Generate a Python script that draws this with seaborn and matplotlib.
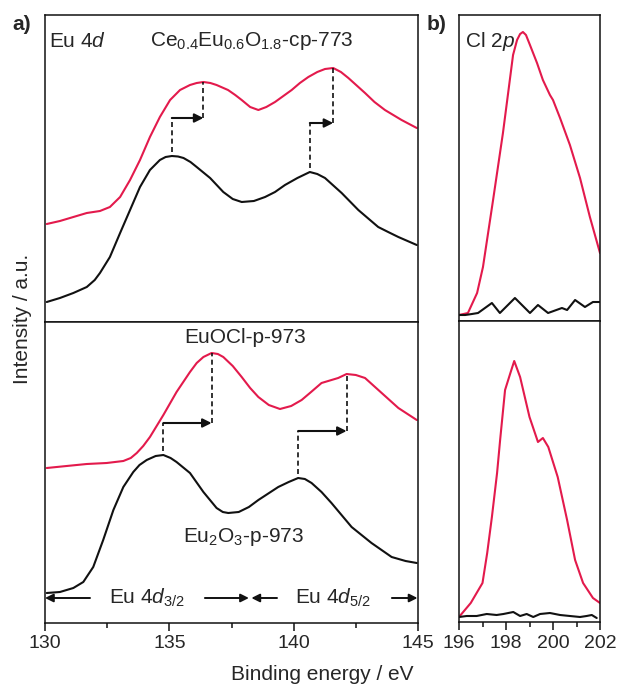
import numpy as np
import pandas as pd
import matplotlib
matplotlib.use("Agg")
import matplotlib.pyplot as plt
import seaborn as sns

# ---------------- Eu 4d spectra (binding energy in eV, intensity in a.u.) ----------------
ce_eu_energy = [130.07, 130.60, 131.14, 131.68, 132.21, 132.61, 133.02, 133.42, 133.82, 134.22,
                134.62, 135.03, 135.43, 135.83, 136.10, 136.37, 136.65, 136.90, 137.36, 137.65,
                137.91, 138.25, 138.58, 138.90, 139.25, 139.92, 140.25, 140.59, 140.95, 141.26,
                141.59, 141.90, 142.20, 142.87, 143.25, 143.67, 144.34, 144.95]
ce_eu_intensity = [98, 101, 105, 109, 111, 115, 125, 142, 162, 185,
                   205, 222, 232, 237, 239, 240, 239, 237, 232, 227,
                   222, 215, 212, 215, 220, 232, 239, 245, 250, 253,
                   254, 250, 244, 229, 220, 212, 202, 194]

ref_top_energy = [130.07, 130.60, 131.14, 131.68, 132.00, 132.21, 132.61, 133.02, 133.42, 133.82,
                  134.22, 134.62, 134.85, 135.10, 135.35, 135.57, 135.85, 136.10, 136.64, 137.17,
                  137.55, 137.91, 138.40, 138.85, 139.25, 139.65, 140.15, 140.65, 140.95, 141.26,
                  141.93, 142.60, 143.40, 143.80, 144.21, 144.95]
ref_top_intensity = [20, 24, 29, 35, 42, 49, 65, 89, 112, 135,
                     152, 162, 165, 166, 165.5, 164, 160, 155, 144, 130,
                     123, 120, 121, 125, 130, 137, 144, 150, 148, 144,
                     129, 112, 95, 90, 85, 77]

euocl_energy = [130.07, 130.87, 131.68, 132.48, 133.15, 133.45, 133.69, 133.95, 134.22, 134.76,
                135.29, 135.83, 136.10, 136.37, 136.70, 136.95, 137.17, 137.55, 137.91, 138.25,
                138.58, 139.00, 139.45, 139.90, 140.32, 140.70, 141.12, 141.79, 142.13, 142.50,
                142.87, 143.54, 144.21, 144.95]
euocl_intensity = [155, 157, 159, 160, 162, 165, 170, 177, 186, 208,
                   231, 251, 260, 266, 270, 269, 266, 257, 246, 235,
                   226, 218, 214, 217, 223, 231, 240, 245, 249, 248,
                   245, 230, 215, 203]

eu2o3_energy = [130.07, 130.60, 131.14, 131.54, 131.94, 132.34, 132.75, 133.15, 133.55, 133.80,
                134.09, 134.45, 134.76, 135.05, 135.29, 135.83, 136.37, 136.90, 137.15, 137.37,
                137.79, 138.20, 138.58, 139.38, 139.80, 140.18, 140.45, 140.72, 141.12, 141.52,
                142.33, 143.13, 143.94, 144.50, 144.95]
eu2o3_intensity = [30, 31, 35, 41, 56, 83, 113, 136, 151, 158,
                   163, 167, 168, 165, 161, 150, 131, 115, 111, 110,
                   111, 116, 123, 136, 141, 145, 144, 140, 131, 120,
                   96, 80, 66, 62, 60]

# ---------------- Cl 2p spectra ----------------
cl_top_energy = [196.00, 196.38, 196.77, 197.02, 197.45, 197.87, 198.08, 198.30, 198.47, 198.60,
                 198.72, 198.85, 199.02, 199.32, 199.57, 199.87, 200.00, 200.30, 200.72, 201.15,
                 201.57, 202.00]
cl_top_intensity = [6, 8, 28, 54, 121, 188, 226, 266, 281, 287,
                    289, 286, 276, 258, 241, 226, 221, 203, 176, 143,
                    104, 68]

cl_top_ref_energy = [196.00, 196.26, 196.55, 196.81, 197.40, 197.74, 198.38, 199.02, 199.36, 199.79,
                     200.38, 200.60, 200.94, 201.36, 201.70, 202.00]
cl_top_ref_intensity = [6, 6, 7, 8, 18, 8, 23, 8, 16, 8,
                        13, 11, 21, 14, 19, 19]

cl_bot_energy = [196.00, 196.50, 197.00, 197.20, 197.40, 197.62, 197.75, 197.96, 198.20, 198.35,
                 198.60, 199.00, 199.36, 199.57, 199.80, 200.20, 200.60, 200.94, 201.28, 201.70, 202.00]
cl_bot_intensity = [5, 19, 39, 69, 105, 149, 182, 232, 250, 261,
                    245, 205, 180, 184, 175, 145, 102, 62, 39, 24, 19]

cl_bot_ref_energy = [196.00, 196.33, 196.75, 197.18, 197.60, 197.89, 198.31, 198.60, 198.88, 199.16,
                     199.45, 199.87, 200.30, 200.72, 201.15, 201.43, 201.65, 201.86]
cl_bot_ref_intensity = [5, 6, 6, 8, 7, 8, 10, 6, 8, 5,
                        8, 9, 7, 6, 5, 6, 7, 4]

eu_ticks = [130, 135, 140, 145]
cl_ticks = [196, 198, 200, 202]

# ---------------- style ----------------
sns.set_style("ticks")
plt.rcParams["font.family"] = ["Liberation Sans", "DejaVu Sans"]
plt.rcParams["mathtext.fontset"] = "custom"
plt.rcParams["mathtext.rm"] = "Liberation Sans"
plt.rcParams["mathtext.it"] = "Liberation Sans:italic"
plt.rcParams["axes.linewidth"] = 1.1
plt.rcParams["lines.solid_joinstyle"] = "round"

RED = "#e31a4c"
BLACK = "#111111"
LW = 1.5
FS = 15

W, H = 621, 688
fig = plt.figure(figsize=(W / 100, H / 100), dpi=100)


def box(x0, y0, x1, y1):
    return [x0 / W, 1 - y1 / H, (x1 - x0) / W, (y1 - y0) / H]


ax_a_top = fig.add_axes(box(45, 15, 418, 322))
ax_a_bot = fig.add_axes(box(45, 322, 418, 623))
ax_b_top = fig.add_axes(box(459, 15, 600, 321))
ax_b_bot = fig.add_axes(box(459, 321, 600, 622))


def curve(ax, x, y, color):
    df = pd.DataFrame({"energy": x, "intensity": y})
    sns.lineplot(data=df, x="energy", y="intensity", ax=ax, color=color,
                 lw=LW, sort=True, estimator=None)


curve(ax_a_top, ce_eu_energy, ce_eu_intensity, RED)
curve(ax_a_top, ref_top_energy, ref_top_intensity, BLACK)
curve(ax_a_bot, euocl_energy, euocl_intensity, RED)
curve(ax_a_bot, eu2o3_energy, eu2o3_intensity, BLACK)
curve(ax_b_top, cl_top_energy, cl_top_intensity, RED)
curve(ax_b_top, cl_top_ref_energy, cl_top_ref_intensity, BLACK)
curve(ax_b_bot, cl_bot_energy, cl_bot_intensity, RED)
curve(ax_b_bot, cl_bot_ref_energy, cl_bot_ref_intensity, BLACK)


def peaks(x, y, split=138.5):
    x = np.asarray(x)
    y = np.asarray(y)
    out = []
    for m in (x < split, x >= split):
        i = np.argmax(np.where(m, y, -np.inf))
        out.append((x[i], y[i]))
    return out


def shift_arrow(ax, black_pk, red_pk, level):
    (xb, yb), (xr, yr) = black_pk, red_pk
    ax.plot([xb, xb], [yb + 4, level], ls=(0, (3, 2)), color=BLACK, lw=1.2)
    ax.plot([xr, xr], [level, yr], ls=(0, (3, 2)), color=BLACK, lw=1.2)
    ax.annotate("", xy=(xr, level), xytext=(xb, level),
                arrowprops=dict(arrowstyle="-|>", color=BLACK, lw=1.5,
                                mutation_scale=13, shrinkA=0, shrinkB=0))


bt = peaks(ref_top_energy, ref_top_intensity)
rt = peaks(ce_eu_energy, ce_eu_intensity)
shift_arrow(ax_a_top, bt[0], rt[0], 204)
shift_arrow(ax_a_top, bt[1], rt[1], 199)

bb = peaks(eu2o3_energy, eu2o3_intensity)
rb = peaks(euocl_energy, euocl_intensity)
shift_arrow(ax_a_bot, bb[0], rb[0], 200)
shift_arrow(ax_a_bot, bb[1], rb[1], 192)

# spin-orbit region markers
arrow_kw = dict(arrowstyle="-|>", color=BLACK, lw=1.4, mutation_scale=12,
                shrinkA=0, shrinkB=0)
lvl = 25
for x_from, x_to in [(131.81, 130.0), (136.43, 138.20), (139.33, 138.30), (143.95, 144.98)]:
    ax_a_bot.annotate("", xy=(x_to, lvl), xytext=(x_from, lvl), arrowprops=arrow_kw)
ax_a_bot.text(134.1, lvl, r"Eu 4$d_{3/2}$", fontsize=FS, ha="center", va="center")
ax_a_bot.text(141.6, lvl, r"Eu 4$d_{5/2}$", fontsize=FS, ha="center", va="center")

# limits, ticks, spines
for ax in (ax_a_top, ax_a_bot):
    ax.set_xlim(130, 145)
for ax in (ax_b_top, ax_b_bot):
    ax.set_xlim(196, 202)
ax_a_top.set_ylim(0, 307)
ax_a_bot.set_ylim(0, 301)
ax_b_top.set_ylim(0, 306)
ax_b_bot.set_ylim(0, 301)

for ax in (ax_a_top, ax_a_bot, ax_b_top, ax_b_bot):
    ax.set_xlabel("")
    ax.set_ylabel("")
    ax.set_yticks([])
    for s in ax.spines.values():
        s.set_visible(True)
        s.set_linewidth(1.1)
        s.set_color(BLACK)

for ax in (ax_a_top, ax_b_top):
    ax.set_xticks([])
    ax.tick_params(axis="x", which="both", bottom=False, labelbottom=False)

ax_a_bot.set_xticks(eu_ticks)
ax_a_bot.set_xticks([132.5, 137.5, 142.5], minor=True)
ax_b_bot.set_xticks(cl_ticks)
ax_b_bot.set_xticks([197, 199, 201], minor=True)
for ax in (ax_a_bot, ax_b_bot):
    ax.set_xticklabels([str(t) for t in ax.get_xticks()])
    ax.tick_params(axis="x", which="major", direction="out", length=6, width=1.1,
                   labelsize=14, pad=3, color=BLACK)
    ax.tick_params(axis="x", which="minor", direction="out", length=3.5, width=1.1,
                   color=BLACK)

# texts
ax_a_top.text(0.012, 0.915, r"Eu 4$d$", transform=ax_a_top.transAxes, fontsize=FS,
              ha="left", va="center")
ax_a_top.text(0.282, 0.915, r"Ce$_{0.4}$Eu$_{0.6}$O$_{1.8}$-cp-773",
              transform=ax_a_top.transAxes, fontsize=FS, ha="left", va="center")
ax_a_bot.text(0.536, 0.95, "EuOCl-p-973", transform=ax_a_bot.transAxes, fontsize=FS,
              ha="center", va="center")
ax_a_bot.text(0.531, 0.285, r"Eu$_2$O$_3$-p-973", transform=ax_a_bot.transAxes,
              fontsize=FS, ha="center", va="center")
ax_b_top.text(0.04, 0.915, r"Cl 2$p$", transform=ax_b_top.transAxes, fontsize=FS,
              ha="left", va="center")

fig.text(12 / W, 1 - 25 / H, "a)", fontsize=FS, fontweight="bold", ha="left", va="center")
fig.text(427 / W, 1 - 24 / H, "b)", fontsize=FS, fontweight="bold", ha="left", va="center")
fig.text(23 / W, 1 - 319 / H, "Intensity / a.u.", fontsize=FS, rotation=90,
         ha="center", va="center")
fig.text(322 / W, 1 - 674 / H, "Binding energy / eV", fontsize=FS, ha="center", va="center")

fig.savefig("out.png", dpi=100)
